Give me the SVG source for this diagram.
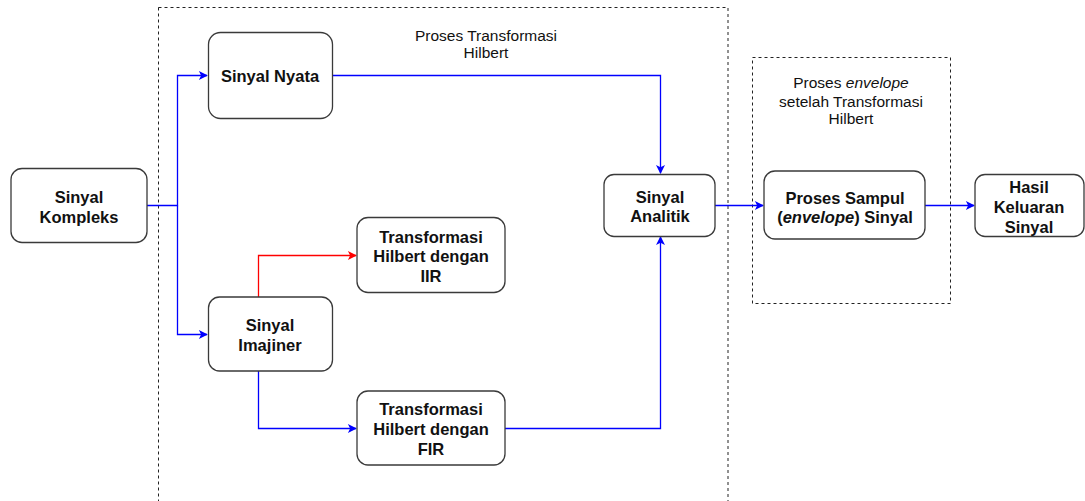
<svg xmlns="http://www.w3.org/2000/svg" width="1085" height="501" viewBox="0 0 1085 501">
<style>
.box{fill:#fff;stroke:#3a3a3a;stroke-width:1.3}
.cont{fill:none;stroke:#222;stroke-width:1;stroke-dasharray:3 3}
.n{font-family:"Liberation Sans",Arial,sans-serif;font-size:16.5px;font-weight:bold;fill:#111;text-anchor:middle}
.lbl{font-family:"Liberation Sans",Arial,sans-serif;font-size:15.5px;fill:#111;text-anchor:middle}
.b{fill:none;stroke:#0000ff;stroke-width:1.3}
.r{fill:none;stroke:#ff0000;stroke-width:1.3}
</style>
<defs>
<marker id="ab" markerUnits="userSpaceOnUse" viewBox="0 0 10 10" refX="9" refY="5" markerWidth="10" markerHeight="9" orient="auto"><path d="M0,0 L10,5 L0,10 L2.5,5 z" fill="#0000ff"/></marker>
<marker id="ar" markerUnits="userSpaceOnUse" viewBox="0 0 10 10" refX="9" refY="5" markerWidth="10" markerHeight="9" orient="auto"><path d="M0,0 L10,5 L0,10 L2.5,5 z" fill="#ff0000"/></marker>
</defs>
<g id="containers">
<rect class="cont" x="158.5" y="7.5" width="569.5" height="500"/>
<rect class="cont" x="752.5" y="57.5" width="198" height="246"/>
<text class="lbl" x="486" y="41">Proses Transformasi</text>
<text class="lbl" x="486" y="58">Hilbert</text>
<text class="lbl" x="851" y="88">Proses <tspan font-style="italic">envelope</tspan></text>
<text class="lbl" x="851" y="107">setelah Transformasi</text>
<text class="lbl" x="851" y="124">Hilbert</text>
</g>
<g id="connectors">
<path class="b" d="M147,205.5 H177.5 V75.5 H207" marker-end="url(#ab)"/>
<path class="b" d="M177.5,205.5 V334.5 H207" marker-end="url(#ab)"/>
<path class="b" d="M332,75.5 H660.5 V173" marker-end="url(#ab)"/>
<path class="r" d="M258.5,297 V255.5 H356" marker-end="url(#ar)"/>
<path class="b" d="M258.5,371 V428.5 H356" marker-end="url(#ab)"/>
<path class="b" d="M505,428.5 H660.5 V237" marker-end="url(#ab)"/>
<path class="b" d="M715,205.5 H763" marker-end="url(#ab)"/>
<path class="b" d="M925,205.5 H974" marker-end="url(#ab)"/>
</g>
<g id="sinyal-kompleks">
<rect class="box" x="11" y="168.5" width="136" height="74" rx="11"/>
<text class="n" x="79" y="203">Sinyal</text>
<text class="n" x="79" y="223">Kompleks</text>
</g>
<g id="sinyal-nyata">
<rect class="box" x="208.5" y="32.5" width="124" height="86" rx="12"/>
<text class="n" x="270" y="82">Sinyal Nyata</text>
</g>
<g id="sinyal-imajiner">
<rect class="box" x="208.5" y="297" width="124" height="74" rx="11"/>
<text class="n" x="270" y="331">Sinyal</text>
<text class="n" x="270" y="351">Imajiner</text>
</g>
<g id="hilbert-iir">
<rect class="box" x="357" y="217.5" width="148" height="75" rx="11"/>
<text class="n" x="431" y="243">Transformasi</text>
<text class="n" x="431" y="262">Hilbert dengan</text>
<text class="n" x="431" y="282">IIR</text>
</g>
<g id="hilbert-fir">
<rect class="box" x="357" y="391" width="148" height="74" rx="11"/>
<text class="n" x="431" y="415">Transformasi</text>
<text class="n" x="431" y="435">Hilbert dengan</text>
<text class="n" x="431" y="455">FIR</text>
</g>
<g id="sinyal-analitik">
<rect class="box" x="604" y="174.5" width="111" height="62" rx="10"/>
<text class="n" x="660" y="203">Sinyal</text>
<text class="n" x="660" y="222">Analitik</text>
</g>
<g id="proses-sampul">
<rect class="box" x="764" y="171" width="161" height="68" rx="11"/>
<text class="n" x="845" y="204">Proses Sampul</text>
<text class="n" x="845" y="223">(<tspan font-style="italic">envelope</tspan>) Sinyal</text>
</g>
<g id="hasil-keluaran">
<rect class="box" x="975" y="174.5" width="109" height="62" rx="10"/>
<text class="n" x="1029" y="193">Hasil</text>
<text class="n" x="1029" y="213">Keluaran</text>
<text class="n" x="1029" y="233">Sinyal</text>
</g>
</svg>
